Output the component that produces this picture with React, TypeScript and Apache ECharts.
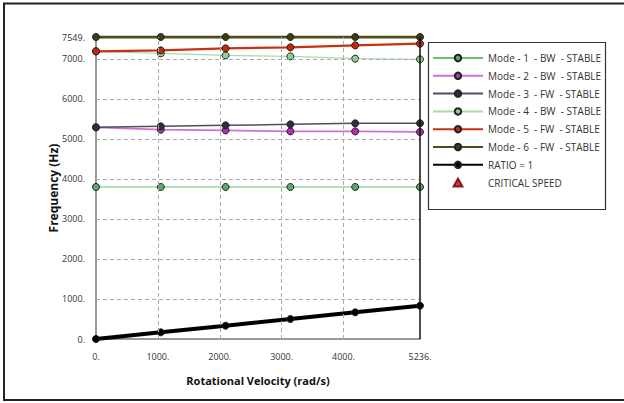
import React, { useEffect, useRef } from "react";
import * as echarts from "echarts";

const speeds = [0, 1047.2, 2094.4, 3141.6, 4188.8, 5236];
const mode1 = [3800, 3800, 3800, 3800, 3800, 3800];
const mode2 = [5290, 5232, 5215, 5190, 5190, 5175];
const mode3 = [5290, 5315, 5340, 5365, 5390, 5392];
const mode4 = [7190, 7140, 7090, 7065, 7008, 6990];
const mode5 = [7190, 7215, 7265, 7290, 7340, 7383];
const mode6 = [7549, 7549, 7549, 7549, 7549, 7549];
const ratio = [0, 166.7, 333.3, 500, 666.7, 833.3];

const xTicks = [0, 1000, 2000, 3000, 4000, 5236];
const yTicks = [0, 1000, 2000, 3000, 4000, 5000, 6000, 7000, 7549];
const xGrid = [1000, 2000, 3000, 4000];
const yGrid = [1000, 2000, 3000, 4000, 5000, 6000, 7000];

const names = [
  "Mode - 1  - BW  - STABLE",
  "Mode - 2  - BW  - STABLE",
  "Mode - 3  - FW  - STABLE",
  "Mode - 4  - BW  - STABLE",
  "Mode - 5  - FW  - STABLE",
  "Mode - 6  - FW  - STABLE",
  "RATIO = 1",
  "CRITICAL SPEED",
];

const FONT = "Open Sans";

export default function App() {
  const ref = useRef<HTMLDivElement>(null);
  useEffect(() => {
    if (!ref.current) return;
    const chart = echarts.init(ref.current, undefined, { renderer: "svg" });
    const pair = (ys: number[]) => speeds.map((x, i) => [x, ys[i]]);
    const lineSeries = (
      name: string,
      ys: number[],
      lineColor: string,
      width: number,
      markerColor: string,
      size = 7,
      z = 3
    ) => ({
      type: "line",
      name,
      data: pair(ys),
      symbol: "circle",
      symbolSize: size,
      z,
      lineStyle: { color: lineColor, width },
      itemStyle: { color: markerColor, borderColor: "#222", borderWidth: 1 },
      emphasis: { disabled: true },
    });
    chart.setOption({
      animation: false,
      textStyle: { fontFamily: FONT },
      grid: { left: 96, right: 204, top: 37, bottom: 64 },
      xAxis: {
        type: "value",
        min: 0,
        max: 5236,
        name: "Rotational Velocity (rad/s)",
        nameLocation: "middle",
        nameGap: 36,
        nameTextStyle: { fontFamily: FONT, fontWeight: "bold", fontSize: 11, color: "#111" },
        axisLine: { show: true, lineStyle: { color: "#777", width: 1.5 } },
        axisTick: { show: false },
        splitLine: { show: false },
        axisLabel: {
          customValues: xTicks,
          formatter: (v: number) => v + ".",
          fontSize: 9,
          color: "#333",
          margin: 13,
          fontFamily: FONT,
        },
      },
      yAxis: {
        type: "value",
        min: 0,
        max: 7549,
        name: "Frequency (Hz)",
        nameLocation: "middle",
        nameGap: 37,
        nameMoveOverlap: false,
        nameTextStyle: { fontFamily: FONT, fontWeight: "bold", fontSize: 12, color: "#111" },
        axisLine: { show: true, lineStyle: { color: "#777", width: 1.5 } },
        axisTick: { show: false },
        splitLine: { show: false },
        axisLabel: {
          customValues: yTicks,
          formatter: (v: number) => v + ".",
          fontSize: 9,
          color: "#333",
          margin: 11,
          fontFamily: FONT,
        },
      },
      legend: {
        orient: "vertical",
        left: 432,
        top: 53,
        itemWidth: 50,
        itemHeight: 8,
        itemGap: 7.8,
        padding: 0,
        data: [
          ...names.slice(0, 7),
          { name: names[7], icon: "path://M0,9 L5,0 L10,9 Z" },
        ],
        textStyle: { fontSize: 10, color: "#333", fontFamily: FONT },
        selectedMode: false,
      },
      graphic: [
        {
          type: "rect",
          shape: { x: 4, y: 3.5, width: 640, height: 396.5 },
          style: { fill: "none", stroke: "#222", lineWidth: 2 },
          z: 0,
        },
        {
          type: "rect",
          shape: { x: 428.5, y: 42.5, width: 177, height: 167 },
          style: { fill: "none", stroke: "#333", lineWidth: 1.2 },
          z: 0,
        },
      ],
      series: [
        {
          type: "line",
          name: "grid-helper",
          data: [],
          z: 1,
          markLine: {
            silent: true,
            symbol: "none",
            label: { show: false },
            lineStyle: { color: "#aaa", type: [4, 3], width: 1 },
            data: [
              ...xGrid.map((v) => ({ xAxis: v })),
              ...yGrid.map((v) => ({ yAxis: v })),
            ],
          },
        },
        {
          type: "line",
          name: "border-helper",
          data: [],
          z: 2,
          markLine: {
            silent: true,
            symbol: "none",
            label: { show: false },
            lineStyle: { color: "#111", type: "solid", width: 1.5 },
            data: [{ xAxis: 5236 }],
          },
        },
        lineSeries(names[0], mode1, "#6cc070", 1.2, "#5fa86a"),
        lineSeries(names[1], mode2, "#d070d0", 1.8, "#b030b0"),
        lineSeries(names[2], mode3, "#4a5060", 1.5, "#2a3040"),
        lineSeries(names[3], mode4, "#a6dca6", 1.2, "#90d090"),
        lineSeries(names[4], mode5, "#c83214", 2.2, "#c02810"),
        lineSeries(names[5], mode6, "#4d4d1a", 3.2, "#3d3d12"),
        lineSeries(names[6], ratio, "#000", 4, "#000", 7, 4),
        {
          type: "scatter",
          name: names[7],
          data: [],
          symbol: "triangle",
          itemStyle: { color: "#e00000", borderColor: "#600", borderWidth: 0.5 },
        },
      ],
    });
    return () => chart.dispose();
  }, []);
  return (
    <div
      ref={ref}
      style={{ position: "fixed", left: 0, top: 0, width: 624, height: 403, background: "#fff" }}
    />
  );
}
